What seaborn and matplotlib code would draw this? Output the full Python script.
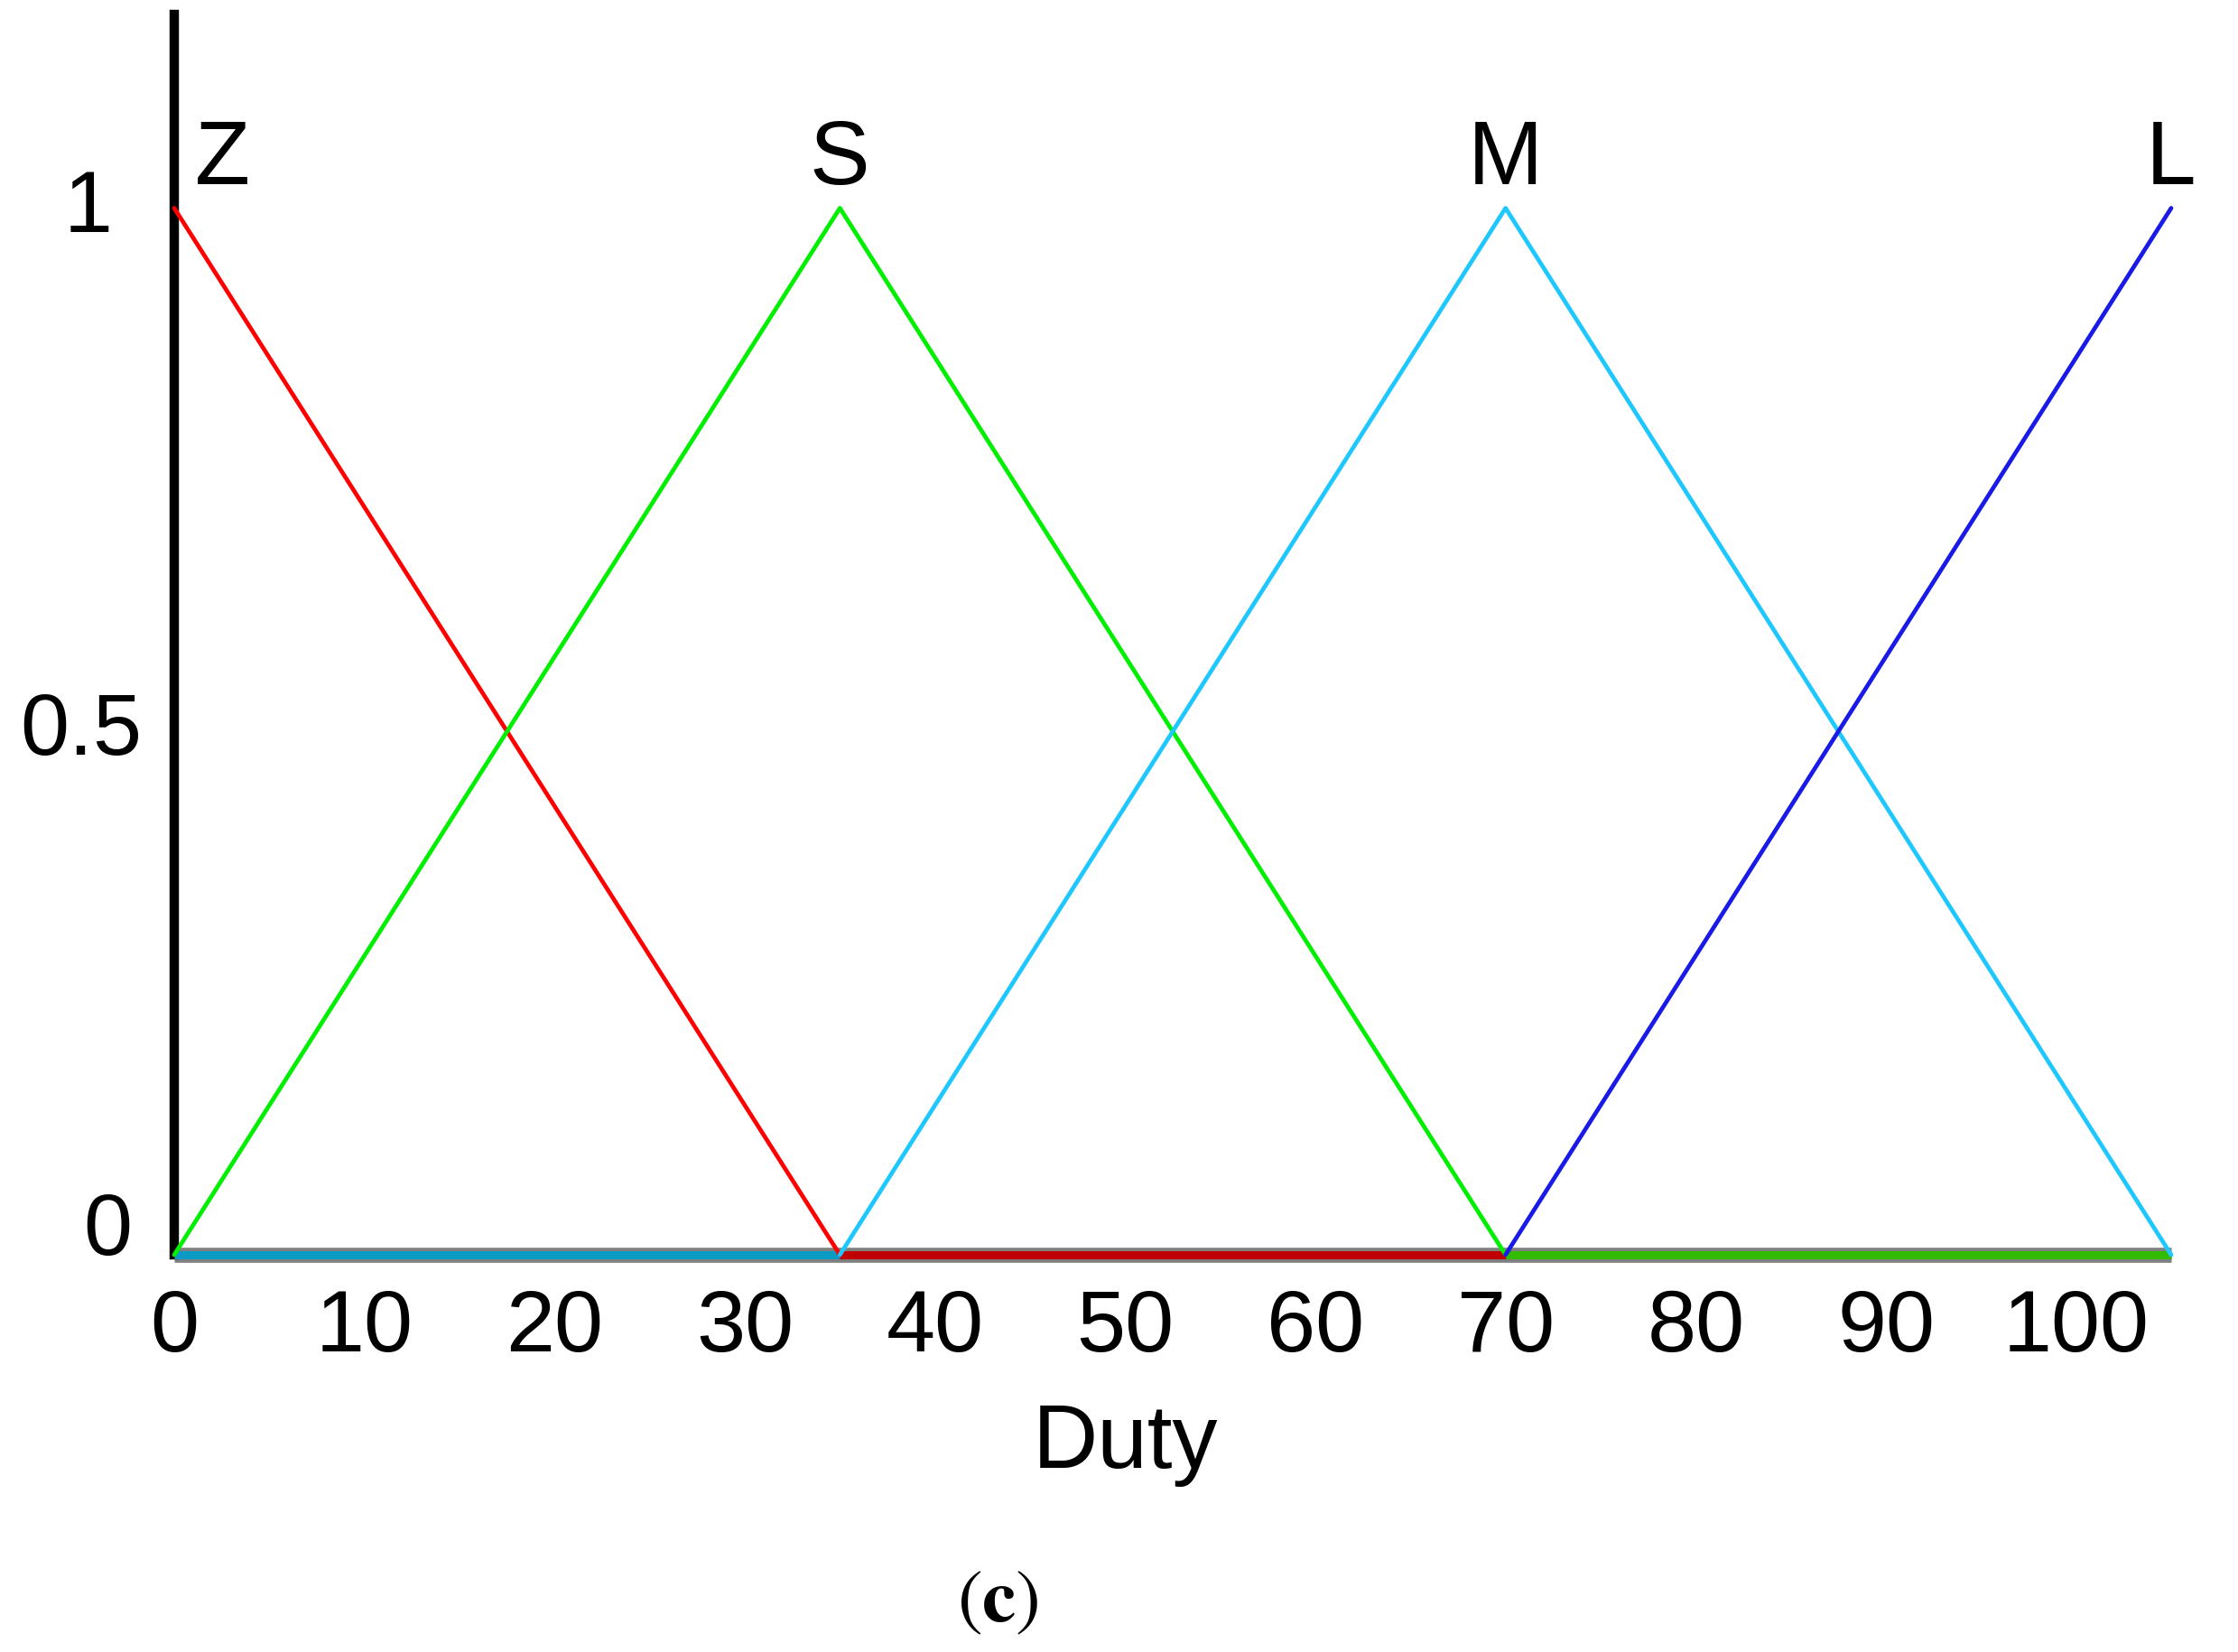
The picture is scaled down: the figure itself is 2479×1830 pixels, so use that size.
import pandas as pd
import matplotlib.pyplot as plt
import seaborn as sns

# membership functions (Duty)
labels = ['Z', 'S', 'M', 'L']
z_x = [0, 35]
z_y = [1, 0]
s_x = [0, 35, 70]
s_y = [0, 1, 0]
m_x = [35, 70, 105]
m_y = [0, 1, 0]
l_x = [70, 105]
l_y = [0, 1]
peaks = [0, 35, 70, 105]

# thick zero segments along the bottom
base_x = [[0, 35], [35, 70], [70, 105]]
base_colors = ['#0a9bc4', '#c00000', '#33bb00']

colors = {'Z': '#ff0000', 'S': '#00ee00', 'M': '#1ec8ff', 'L': '#1a1ae6'}

rows = []
for name, xs, ys in zip(labels, [z_x, s_x, m_x, l_x], [z_y, s_y, m_y, l_y]):
    for i, (x, y) in enumerate(zip(xs, ys)):
        rows.append({'set': name, 'duty': x, 'mu': y, 'order': i})
df = pd.DataFrame(rows)

sns.set_style('white')
plt.rcParams['font.family'] = ['Liberation Sans', 'DejaVu Sans']
plt.rcParams['text.color'] = 'black'
plt.rcParams['xtick.color'] = 'black'
plt.rcParams['axes.labelcolor'] = 'black'

fig = plt.figure(figsize=(24.79, 18.31), dpi=100)
ax = fig.add_axes([193 / 2479, 1 - 1391 / 1831, (2405 - 193) / 2479, (1391 - 17) / 1831])

# baseline
ax.plot([0, 105], [0, 0], color='#808080', lw=12, solid_capstyle='butt', clip_on=False, zorder=2)
for xs, c in zip(base_x, base_colors):
    ax.plot(xs, [0, 0], color=c, lw=6.5, solid_capstyle='butt', clip_on=False, zorder=3)
n_base = len(ax.lines)

sns.lineplot(data=df, x='duty', y='mu', hue='set', palette=colors, units='set',
             estimator=None, sort=False, legend=False, ax=ax)
for line in ax.lines[n_base:]:
    line.set_linewidth(3.4)
    line.set_clip_on(False)
    line.set_zorder(4)

ax.set_xlim(0, 105)
ax.set_ylim(0, 1.185)

for name, px in zip(labels, peaks):
    if name == 'Z':
        ax.text(1.1, 1.046, name, ha='left', va='center', fontsize=72)
    else:
        ax.text(px, 1.046, name, ha='center', va='center', fontsize=72)

ax.set_xticks(range(0, 101, 10))
ax.tick_params(axis='x', length=0, pad=26, labelsize=70)
ax.set_yticks([])
ytrans = ax.get_yaxis_transform()
ax.text(-0.031, 1, '1', transform=ytrans, ha='right', va='center', fontsize=70)
ax.text(-0.016, 0.5, '0.5', transform=ytrans, ha='right', va='center', fontsize=70)
ax.text(-0.021, 0.022, '0', transform=ytrans, ha='right', va='center', fontsize=70)

ax.set_xlabel('Duty', fontsize=72, labelpad=26, x=50 / 105)
ax.set_ylabel('')

for side in ['top', 'right', 'bottom']:
    ax.spines[side].set_visible(False)
ax.spines['left'].set_color('black')
ax.spines['left'].set_linewidth(7.5)

fig.text(1105 / 2479, 1 - 1774 / 1831, r'$(\mathbf{c})$', math_fontfamily='stix',
         ha='center', va='center', fontsize=60)

fig.savefig('out.png', dpi=100, facecolor='white')
